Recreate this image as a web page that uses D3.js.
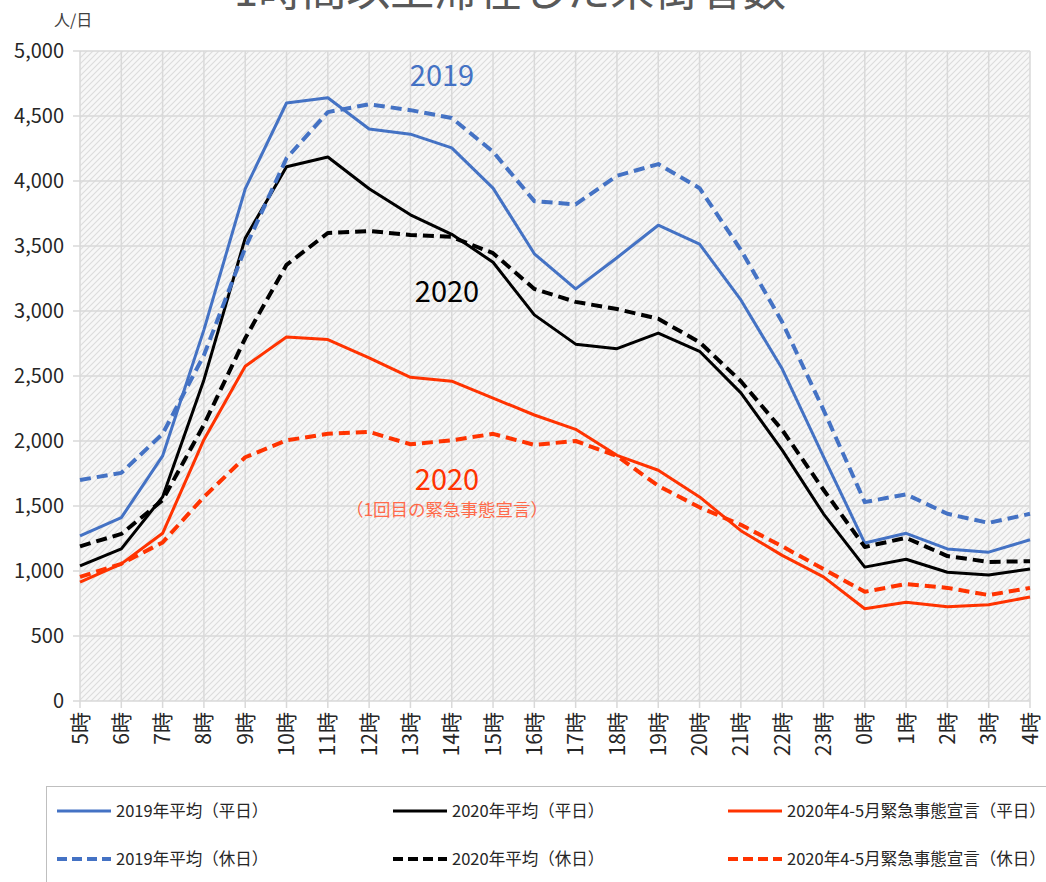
<!DOCTYPE html>
<html>
<head>
<meta charset="utf-8">
<script src="https://cdn.jsdelivr.net/npm/d3@7"></script>
<style>
  body { margin: 0; background: #fff; }
  svg { font-family: "Noto Sans CJK JP", "Noto Sans", sans-serif; }
</style>
</head>
<body>
<svg width="1046" height="882"></svg>
<script>
const hours = ["5時","6時","7時","8時","9時","10時","11時","12時","13時","14時","15時","16時",
  "17時","18時","19時","20時","21時","22時","23時","0時","1時","2時","3時","4時"]

const weekday2019 = [1270,1410,1885,2855,3940,4600,4640,4400,4360,4255,3945,3440,
  3170,3410,3660,3515,3085,2555,1880,1215,1290,1170,1145,1240]
const holiday2019 = [1700,1755,2055,2660,3485,4175,4530,4590,4545,4485,4225,3845,
  3820,4040,4130,3945,3470,2915,2240,1530,1590,1440,1370,1440]
const weekday2020 = [1040,1170,1570,2470,3560,4110,4185,3940,3740,3590,3375,2970,
  2745,2710,2830,2690,2370,1930,1440,1030,1090,990,970,1015]
const holiday2020 = [1190,1285,1545,2125,2790,3355,3600,3615,3585,3570,3445,3170,
  3070,3015,2940,2760,2460,2085,1625,1185,1255,1115,1070,1075]
const weekdayEmergency = [915,1055,1290,2010,2575,2800,2780,2640,2490,2460,2330,2200,
  2090,1890,1775,1570,1310,1120,955,710,760,725,740,800]
const holidayEmergency = [955,1055,1220,1570,1875,2005,2055,2070,1975,2005,2055,1970,
  2000,1885,1655,1490,1355,1190,1015,840,900,870,815,870]

const yTicks = [0,500,1000,1500,2000,2500,3000,3500,4000,4500,5000]

const series = [
  { name: "2019年平均（平日）", values: weekday2019, color: "#4472C4", dashed: false },
  { name: "2020年平均（平日）", values: weekday2020, color: "#000000", dashed: false },
  { name: "2020年4-5月緊急事態宣言（平日）", values: weekdayEmergency, color: "#FF3300", dashed: false },
  { name: "2019年平均（休日）", values: holiday2019, color: "#4472C4", dashed: true },
  { name: "2020年平均（休日）", values: holiday2020, color: "#000000", dashed: true },
  { name: "2020年4-5月緊急事態宣言（休日）", values: holidayEmergency, color: "#FF3300", dashed: true }
]

const svg = d3.select("svg")
const plotLeft = 80, plotRight = 1030, plotTop = 51, plotBottom = 701

const x = d3.scalePoint().domain(hours).range([plotLeft, plotRight])
const y = d3.scaleLinear().domain([0, 5000]).range([plotBottom, plotTop])

// hatched background
const defs = svg.append("defs")
const pat = defs.append("pattern")
  .attr("id", "hatch")
  .attr("patternUnits", "userSpaceOnUse")
  .attr("width", 6).attr("height", 6)
pat.append("rect").attr("width", 6).attr("height", 6).attr("fill", "#f7f7f7")
pat.append("path")
  .attr("d", "M0,6 L6,0 M-1.5,1.5 L1.5,-1.5 M4.5,7.5 L7.5,4.5")
  .attr("stroke", "#dcdcdc").attr("stroke-width", 1.1)

svg.append("rect")
  .attr("x", plotLeft).attr("y", plotTop)
  .attr("width", plotRight - plotLeft).attr("height", plotBottom - plotTop)
  .attr("fill", "url(#hatch)")

// title (cut off at the top, as in the source)
svg.append("text")
  .attr("x", 510).attr("y", 6)
  .attr("text-anchor", "middle")
  .attr("font-size", 44)
  .attr("fill", "#595959")
  .text("1時間以上滞在した来街者数")

svg.append("text")
  .attr("x", 54).attr("y", 26)
  .attr("font-size", 16)
  .attr("fill", "#404040")
  .text("人/日")

// grid
svg.append("g")
  .selectAll("line")
  .data(yTicks)
  .join("line")
  .attr("x1", plotLeft - 7).attr("x2", plotRight)
  .attr("y1", d => y(d)).attr("y2", d => y(d))
  .attr("stroke", "#d9d9d9").attr("stroke-width", 1.5)

svg.append("g")
  .selectAll("line")
  .data(hours)
  .join("line")
  .attr("x1", d => x(d)).attr("x2", d => x(d))
  .attr("y1", plotTop).attr("y2", plotBottom + 7)
  .attr("stroke", "#d9d9d9").attr("stroke-width", 1.5)

// y labels
svg.append("g")
  .selectAll("text")
  .data(yTicks)
  .join("text")
  .attr("x", 64)
  .attr("y", d => y(d))
  .attr("dy", "0.36em")
  .attr("text-anchor", "end")
  .attr("font-size", 20)
  .attr("fill", "#262626")
  .text(d => d3.format(",")(d))

// x labels
svg.append("g")
  .selectAll("text")
  .data(hours)
  .join("text")
  .attr("transform", d => `translate(${x(d)},712) rotate(-90)`)
  .attr("dy", "0.36em")
  .attr("text-anchor", "end")
  .attr("font-size", 21)
  .attr("fill", "#262626")
  .text(d => d)

// lines
const line = d3.line().x((d, i) => x(hours[i])).y(d => y(d))

svg.append("g")
  .selectAll("path")
  .data(series)
  .join("path")
  .attr("d", d => line(d.values))
  .attr("fill", "none")
  .attr("stroke", d => d.color)
  .attr("stroke-width", d => d.dashed ? 4 : 3)
  .attr("stroke-dasharray", d => d.dashed ? "11,6" : null)
  .attr("stroke-linejoin", "round")

// annotations
svg.append("text").attr("x", 442).attr("y", 86).attr("text-anchor", "middle")
  .attr("font-size", 29).attr("fill", "#4472C4").text("2019")
svg.append("text").attr("x", 447).attr("y", 302).attr("text-anchor", "middle")
  .attr("font-size", 29).attr("fill", "#000").text("2020")
svg.append("text").attr("x", 447).attr("y", 490).attr("text-anchor", "middle")
  .attr("font-size", 29).attr("fill", "#FF3300").text("2020")
svg.append("text").attr("x", 447).attr("y", 516).attr("text-anchor", "middle")
  .attr("font-size", 17.5).attr("fill", "#FF6A4A").text("（1回目の緊急事態宣言）")

// legend
svg.append("rect")
  .attr("x", 46.5).attr("y", 786.5)
  .attr("width", 1010).attr("height", 110)
  .attr("fill", "#fff").attr("stroke", "#bfbfbf").attr("stroke-width", 1)

const colX = [57, 393, 728]
const rowY = [811, 859]
const lg = svg.append("g")
  .selectAll("g")
  .data(series)
  .join("g")
  .attr("transform", (d, i) => `translate(${colX[i % 3]},${rowY[Math.floor(i / 3)]})`)

lg.append("line")
  .attr("x1", 0).attr("x2", 54)
  .attr("stroke", d => d.color)
  .attr("stroke-width", d => d.dashed ? 4 : 3)
  .attr("stroke-dasharray", d => d.dashed ? "10,5" : null)

lg.append("text")
  .attr("x", 59).attr("dy", "0.36em")
  .attr("font-size", 16.5)
  .attr("fill", "#262626")
  .text(d => d.name)
</script>
</body>
</html>
